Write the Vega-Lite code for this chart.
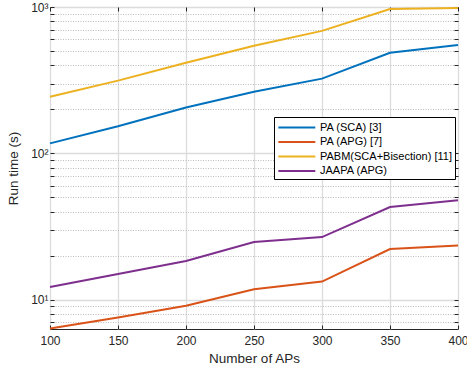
{
  "$schema": "https://vega.github.io/schema/vega-lite/v6.json",
  "width": 408,
  "height": 322,
  "autosize": {"type": "none"},
  "padding": {"left": 50, "top": 7, "right": 9, "bottom": 44},
  "background": "white",
  "config": {
    "view": {"stroke": "#262626", "strokeWidth": 1},
    "font": "Liberation Sans",
    "axis": {"domain": false, "labelFont": "Liberation Sans", "titleFont": "Liberation Sans", "labelColor": "#262626", "titleColor": "#262626", "tickColor": "#262626", "titleFontWeight": "normal", "labelFontSize": 12, "titleFontSize": 13.5}
  },
  "data": {"values": [
    {"series": "PA (SCA) [3]", "aps": 100, "time": 117},
    {"series": "PA (SCA) [3]", "aps": 150, "time": 153},
    {"series": "PA (SCA) [3]", "aps": 200, "time": 206},
    {"series": "PA (SCA) [3]", "aps": 250, "time": 264},
    {"series": "PA (SCA) [3]", "aps": 300, "time": 324},
    {"series": "PA (SCA) [3]", "aps": 350, "time": 487},
    {"series": "PA (SCA) [3]", "aps": 400, "time": 551},
    {"series": "PA (APG) [7]", "aps": 100, "time": 6.35},
    {"series": "PA (APG) [7]", "aps": 150, "time": 7.55},
    {"series": "PA (APG) [7]", "aps": 200, "time": 9.1},
    {"series": "PA (APG) [7]", "aps": 250, "time": 11.8},
    {"series": "PA (APG) [7]", "aps": 300, "time": 13.3},
    {"series": "PA (APG) [7]", "aps": 350, "time": 22.2},
    {"series": "PA (APG) [7]", "aps": 400, "time": 23.5},
    {"series": "PABM(SCA+Bisection) [11]", "aps": 100, "time": 244},
    {"series": "PABM(SCA+Bisection) [11]", "aps": 150, "time": 314},
    {"series": "PABM(SCA+Bisection) [11]", "aps": 200, "time": 416},
    {"series": "PABM(SCA+Bisection) [11]", "aps": 250, "time": 543},
    {"series": "PABM(SCA+Bisection) [11]", "aps": 300, "time": 687},
    {"series": "PABM(SCA+Bisection) [11]", "aps": 350, "time": 970},
    {"series": "PABM(SCA+Bisection) [11]", "aps": 400, "time": 985},
    {"series": "JAAPA (APG)", "aps": 100, "time": 12.2},
    {"series": "JAAPA (APG)", "aps": 150, "time": 15.0},
    {"series": "JAAPA (APG)", "aps": 200, "time": 18.4},
    {"series": "JAAPA (APG)", "aps": 250, "time": 24.8},
    {"series": "JAAPA (APG)", "aps": 300, "time": 26.8},
    {"series": "JAAPA (APG)", "aps": 350, "time": 43},
    {"series": "JAAPA (APG)", "aps": 400, "time": 47.9}
  ]},
  "resolve": {"axis": {"x": "independent", "y": "independent"}},
  "layer": [
    {
      "mark": {"type": "line", "opacity": 0},
      "encoding": {
        "x": {"field": "aps", "type": "quantitative", "scale": {"domain": [100, 400], "nice": false, "zero": false},
          "axis": {"orient": "top", "values": [100, 150, 200, 250, 300, 350, 400], "labels": false, "title": null, "grid": false, "tickSize": -4}},
        "y": {"field": "time", "type": "quantitative", "scale": {"type": "log", "domain": [6.31, 1000], "nice": false},
          "axis": {"orient": "right", "values": [7, 8, 9, 10, 20, 30, 40, 50, 60, 70, 80, 90, 100, 200, 300, 400, 500, 600, 700, 800, 900, 1000], "labels": false, "title": null, "grid": false, "tickSize": -4}},
        "detail": {"field": "series"}
      }
    },
    {
      "mark": {"type": "line", "strokeWidth": 2},
      "encoding": {
        "x": {"field": "aps", "type": "quantitative", "scale": {"domain": [100, 400], "nice": false, "zero": false},
          "axis": {"orient": "bottom", "values": [100, 150, 200, 250, 300, 350, 400], "title": "Number of APs", "grid": true, "gridColor": "#dcdcdc", "gridWidth": 1.3, "tickSize": -4, "labelPadding": 10, "titlePadding": 5, "labelOverlap": false, "labelFlush": false}},
        "y": {"field": "time", "type": "quantitative", "scale": {"type": "log", "domain": [6.31, 1000], "nice": false},
          "axis": {"orient": "left", "values": [7, 8, 9, 10, 20, 30, 40, 50, 60, 70, 80, 90, 100, 200, 300, 400, 500, 600, 700, 800, 900, 1000],
            "labelExpr": "datum.value == 10 ? '10¹' : datum.value == 100 ? '10²' : datum.value == 1000 ? '10³' : ''",
            "labelOverlap": false, "labelFlush": false, "labelPadding": 6,
            "title": "Run time (s)", "titlePadding": 10,
            "grid": true,
            "gridDash": {"condition": {"test": "datum.value == 10 || datum.value == 100 || datum.value == 1000", "value": []}, "value": [1, 1.5]},
            "gridColor": {"condition": {"test": "datum.value == 10 || datum.value == 100 || datum.value == 1000", "value": "#dcdcdc"}, "value": "#bdbdbd"},
            "gridWidth": {"condition": {"test": "datum.value == 10 || datum.value == 100 || datum.value == 1000", "value": 1.3}, "value": 1},
            "tickSize": -4}},
        "color": {"field": "series", "type": "nominal",
          "scale": {"domain": ["PA (SCA) [3]", "PA (APG) [7]", "PABM(SCA+Bisection) [11]", "JAAPA (APG)"], "range": ["#0072BD", "#D95319", "#EDB120", "#7E2F8E"]},
          "legend": {"title": null, "orient": "none", "legendX": 224, "legendY": 110, "symbolType": "M-1,0H5", "symbolSize": 152, "symbolStrokeWidth": 2, "symbolFillColor": "transparent", "labelFont": "Liberation Sans", "labelFontSize": 11, "labelColor": "#000000", "strokeColor": "#000000", "fillColor": "white", "padding": 3, "rowPadding": 1.5, "labelOffset": 28, "cornerRadius": 0, "labelLimit": 300}}
      }
    }
  ]
}
